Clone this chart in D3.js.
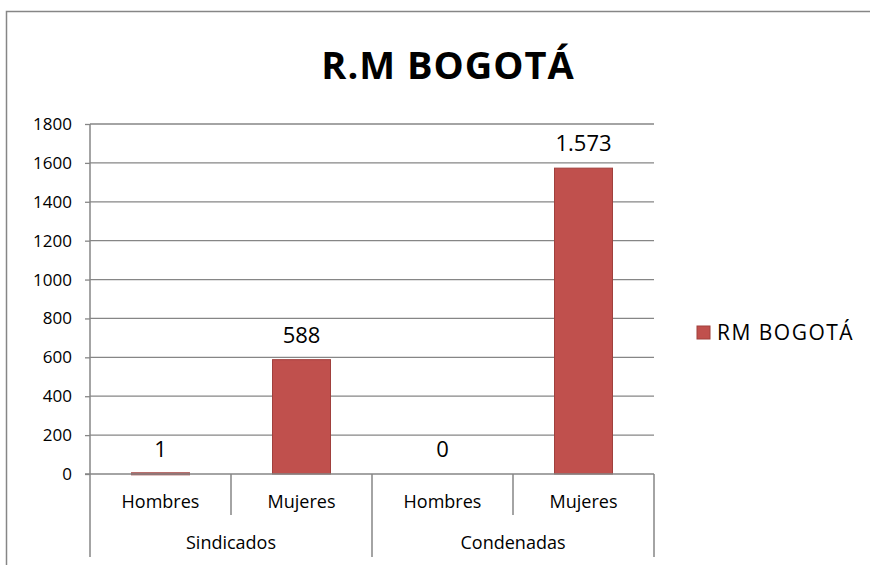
<!DOCTYPE html>
<html>
<head>
<meta charset="utf-8">
<script src="https://cdn.jsdelivr.net/npm/d3@7"></script>
<style>
  body { margin: 0; background: #fff; }
  text { font-family: "Open Sans", "Noto Sans", sans-serif; fill: #000; }
</style>
</head>
<body>
<script>
var outerWidth = 870, outerHeight = 565;

var margin = { top: 124, right: 216, bottom: 91, left: 90 };   // plot area inside the chart frame
var width = outerWidth - margin.left - margin.right,
  height = outerHeight - margin.top - margin.bottom;

// data
var groups = ["Sindicados", "Condenadas"];
var subCategories = ["Hombres", "Mujeres"];
var values = [1, 588, 0, 1573];            // Sindicados H, M, Condenadas H, M
var yTicks = [0, 200, 400, 600, 800, 1000, 1200, 1400, 1600, 1800];
var seriesName = "RM BOGOTÁ";
var title = "R.M BOGOTÁ";

var rows = [];
groups.forEach(function (g, gi) {
  subCategories.forEach(function (s, si) {
    rows.push({ group: g, sub: s, key: g + "|" + s, value: values[gi * subCategories.length + si] });
  });
});

var locale = d3.formatLocale({ decimal: ",", thousands: ".", grouping: [3], currency: ["$", ""] });
var fmt = locale.format(",d");

var x = d3.scaleBand()
  .domain(rows.map(function (d) { return d.key; }))
  .range([0, width])
  .paddingInner(0)
  .paddingOuter(0);

var y = d3.scaleLinear()
  .domain([0, 1800])
  .range([height, 0]);

var gridColor = "#868686";

var svg = d3.select("body").append("svg")
  .attr("width", outerWidth)
  .attr("height", outerHeight);

// chart frame
svg.append("rect")
  .attr("x", 6.5).attr("y", 11.5)
  .attr("width", 900).attr("height", 600)
  .style("fill", "none")
  .style("stroke", gridColor)
  .style("stroke-width", 1.5);

svg.append("text")
  .attr("x", 448).attr("y", 79)
  .attr("text-anchor", "middle")
  .style("font-size", "38px")
  .style("font-weight", "bold")
  .style("letter-spacing", "1px")
  .text(title);

var g = svg.append("g")
  .attr("transform", "translate(" + margin.left + "," + margin.top + ")");

// gridlines
g.selectAll(".grid")
  .data(yTicks.filter(function (t) { return t > 0; }))
  .enter().append("line")
  .attr("x1", 0).attr("x2", width)
  .attr("y1", function (d) { return y(d); })
  .attr("y2", function (d) { return y(d); })
  .style("stroke", gridColor)
  .style("stroke-width", 1.3);

// y axis
var yAxis = d3.axisLeft(y).tickValues(yTicks).tickSize(5).tickPadding(13).tickFormat(d3.format("d"));
var ya = g.append("g").call(yAxis);
ya.select(".domain").remove();
ya.selectAll(".tick line").style("stroke", gridColor).style("stroke-width", 1.3);
ya.selectAll(".tick text").style("font-size", "17px").style("font-family", "'Open Sans', sans-serif").attr("fill", "#000");
g.append("line")
  .attr("x1", 0).attr("x2", 0).attr("y1", 0).attr("y2", height)
  .style("stroke", gridColor).style("stroke-width", 1.5);

// bars
var barW = 58;
g.selectAll(".bar")
  .data(rows)
  .enter().append("rect")
  .attr("class", "bar")
  .attr("x", function (d) { return x(d.key) + x.bandwidth() / 2 - barW / 2; })
  .attr("width", barW)
  .attr("y", function (d) { return y(d.value) - (d.value > 0 && y(0) - y(d.value) < 2 ? 1 : 0); })
  .attr("height", function (d) { return d.value > 0 ? Math.max(2, y(0) - y(d.value)) : 0; })
  .style("fill", "#C0504D")
  .style("stroke", "#A0403D")
  .style("stroke-width", 1);

// data labels
g.selectAll(".lbl")
  .data(rows)
  .enter().append("text")
  .attr("x", function (d) { return x(d.key) + x.bandwidth() / 2; })
  .attr("y", function (d) { return y(d.value) - 17; })
  .attr("text-anchor", "middle")
  .style("font-size", "22px")
  .text(function (d) { return fmt(d.value); });

// baseline
g.append("line")
  .attr("x1", -5).attr("x2", width).attr("y1", height).attr("y2", height)
  .style("stroke", gridColor).style("stroke-width", 1.5);

// category axis: sub-category separators and labels
var subBottom = height + 41, groupBottom = height + 83;
var bounds = rows.map(function (d) { return x(d.key); }).concat([width]);
g.selectAll(".sep")
  .data(bounds)
  .enter().append("line")
  .attr("x1", function (d) { return d; }).attr("x2", function (d) { return d; })
  .attr("y1", height)
  .attr("y2", function (d, i) { return i % subCategories.length === 0 ? groupBottom : subBottom; })
  .style("stroke", gridColor).style("stroke-width", 1.5);

g.selectAll(".subLbl")
  .data(rows)
  .enter().append("text")
  .attr("x", function (d) { return x(d.key) + x.bandwidth() / 2; })
  .attr("y", height + 34)
  .attr("text-anchor", "middle")
  .style("font-size", "18px")
  .text(function (d) { return d.sub; });

g.selectAll(".grpLbl")
  .data(groups)
  .enter().append("text")
  .attr("x", function (d, i) { return x(rows[i * subCategories.length].key) + x.bandwidth() * subCategories.length / 2; })
  .attr("y", height + 75)
  .attr("text-anchor", "middle")
  .style("font-size", "18px")
  .text(function (d) { return d; });

// legend
var leg = svg.append("g").attr("transform", "translate(697,326)");
leg.append("rect")
  .attr("width", 13).attr("height", 13)
  .style("fill", "#C0504D").style("stroke", "#A0403D");
leg.append("text")
  .attr("x", 20).attr("y", 14)
  .style("font-size", "21px")
  .style("letter-spacing", "1.5px")
  .text(seriesName);
</script>
</body>
</html>
